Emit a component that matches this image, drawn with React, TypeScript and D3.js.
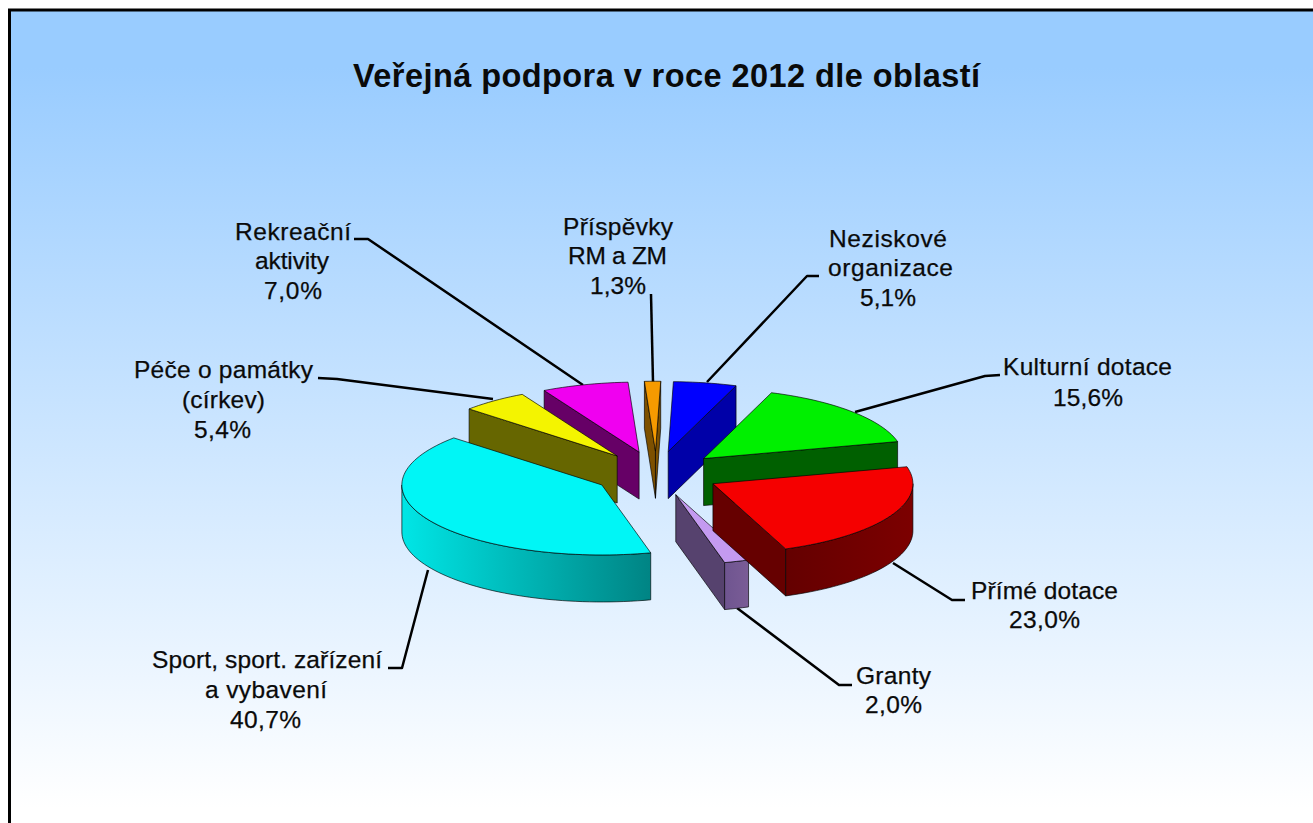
import React from "react";
import * as d3 from "d3";

// ---------- data ----------
const categories = [
  "Neziskové organizace",
  "Kulturní dotace",
  "Přímé dotace",
  "Granty",
  "Sport, sport. zařízení a vybavení",
  "Péče o památky (církev)",
  "Rekreační aktivity",
  "Příspěvky RM a ZM",
];
const shares = [5.1, 15.6, 23.0, 2.0, 40.7, 5.4, 7.0, 1.3];
const labelLines = [
  ["Neziskové", "organizace"],
  ["Kulturní dotace"],
  ["Přímé dotace"],
  ["Granty"],
  ["Sport, sport. zařízení", "a vybavení"],
  ["Péče o památky", "(církev)"],
  ["Rekreační", "aktivity"],
  ["Příspěvky", "RM a ZM"],
];
const chartTitle = "Veřejná podpora v roce 2012 dle oblastí";

// ---------- styling ----------
const topColors = ["#0000ff", "#00f000", "#f50000", "#c49af0", "#00f6f6", "#f4f400", "#f000f0", "#f59a00"];
const wallColors = ["#0000a8", "#006000", "#660000", "#56426e", "#007c7c", "#666600", "#660066", "#7d5000"];
const rimStops = [
  ["#0000a8", "#0000a8"],
  ["#007000", "#006000"],
  ["#640000", "#7c0000"],
  ["#6f5590", "#7a5c96"],
  ["#00e6e6", "#008484"],
  ["#666600", "#666600"],
  ["#660066", "#660066"],
  ["#7d5000", "#7d5000"],
];
const paintOrder = [0, 7, 6, 5, 1, 4, 3, 2];

// ---------- layout ----------
const W = 1313, H = 823;
const center = { x: 656.4, y: 473.5 };
const rx = 200, ry = 70, depth = 47, explode = 0.318;
const startDeg = 1.5;

// [left x, baseline y, width] for every text line of every label (percent line last)
const labelBoxes: number[][][] = [
  [[829, 247, 118], [828, 276, 125], [860, 306, 56]],
  [[1003, 375, 169], [1053, 406, 70]],
  [[971, 599, 147], [1009, 628, 71]],
  [[856, 684, 75], [865, 713, 57]],
  [[152, 668, 230], [205, 698, 122], [230, 728, 71]],
  [[134, 378, 179], [182, 408, 83], [194, 438, 57]],
  [[235, 240, 116], [255, 269, 74], [264, 299, 58]],
  [[563, 235, 110], [568, 264, 99], [590, 294, 56]],
];
const leaders: [number, number][][] = [
  [[819, 276], [807, 276], [707, 382]],
  [[1000, 375], [985, 376], [855, 412]],
  [[965, 600], [952, 600], [893, 563]],
  [[852, 685], [839, 685], [737, 608]],
  [[388, 668], [402, 668], [428, 570]],
  [[318, 378], [337, 379], [493, 399]],
  [[354, 239], [368, 239], [583, 385]],
  [[651, 294], [653, 382]],
];

const rad = (d: number) => (d * Math.PI) / 180;
const pieGen = d3
  .pie<number>()
  .sort(null)
  .startAngle(rad(startDeg))
  .endAngle(rad(startDeg + 360));
const arcs = pieGen(shares);
const lineGen = d3.line<[number, number]>().x((d) => d[0]).y((d) => d[1]);

function sliceParts(i: number) {
  const a0 = arcs[i].startAngle, a1 = arcs[i].endAngle, mid = (a0 + a1) / 2;
  const apex: [number, number] = [
    center.x + rx * explode * Math.sin(mid),
    center.y - ry * explode * Math.cos(mid),
  ];
  const rim = (a: number, dz = 0): [number, number] => [
    apex[0] + rx * Math.sin(a),
    apex[1] - ry * Math.cos(a) + dz,
  ];
  const down = (p: [number, number]): [number, number] => [p[0], p[1] + depth];
  const sweep = (from: number, to: number) => {
    const n = Math.max(2, Math.ceil((to - from) / rad(2)));
    return d3.range(n + 1).map((k) => from + ((to - from) * k) / n);
  };
  const top = lineGen([apex, ...sweep(a0, a1).map((a) => rim(a))]) + "Z";
  const walls: string[] = [];
  if (Math.sin(a0) < 0)
    walls.push(lineGen([apex, rim(a0), down(rim(a0)), down(apex)]) + "Z");
  if (Math.sin(a1) > 0)
    walls.push(lineGen([apex, rim(a1), down(rim(a1)), down(apex)]) + "Z");
  // the rim wall faces the viewer between 90° and 270°
  const from = Math.max(a0, rad(90)), to = Math.min(a1, rad(270));
  let rimWall: string | null = null;
  if (to > from) {
    const s = sweep(from, to);
    rimWall =
      lineGen([
        ...s.map((a) => rim(a)),
        ...s.slice().reverse().map((a) => rim(a, depth)),
      ]) + "Z";
  }
  return { top, walls, rimWall };
}

const edge = { stroke: "#000", strokeOpacity: 0.65, strokeWidth: 1, strokeLinejoin: "round" as const };

export default function App() {
  return (
    <svg
      width={W}
      height={H}
      style={{ position: "absolute", left: 0, top: 0, display: "block" }}
      fontFamily="'Liberation Sans', Arial, sans-serif"
    >
      <defs>
        <linearGradient id="bg" x1="0" y1="0" x2="0" y2="1">
          <stop offset="0" stopColor="#99ccff" />
          <stop offset="0.07" stopColor="#99ccff" />
          <stop offset="0.97" stopColor="#ffffff" />
          <stop offset="1" stopColor="#ffffff" />
        </linearGradient>
        {rimStops.map((s, i) => (
          <linearGradient key={i} id={`rim${i}`} x1="0" y1="0" x2="1" y2="0">
            <stop offset="0" stopColor={s[0]} />
            <stop offset="1" stopColor={s[1]} />
          </linearGradient>
        ))}
      </defs>
      <rect width={W} height={H} fill="#fff" />
      <rect x={9.5} y={10} width={W} height={H} fill="url(#bg)" stroke="#000" strokeWidth={3} />

      <text x={353} y={86.5} fontSize={32.5} fontWeight="bold" fill="#0a0a0a" textLength={627} lengthAdjust="spacing">
        {chartTitle}
      </text>

      {leaders.map((pts, i) => (
        <path key={i} d={lineGen(pts) ?? ""} fill="none" stroke="#000" strokeWidth={2.5} strokeLinejoin="round" />
      ))}

      {paintOrder.map((i) => {
        const p = sliceParts(i);
        return (
          <g key={categories[i]}>
            {p.walls.map((d, k) => (
              <path key={k} d={d} fill={wallColors[i]} {...edge} />
            ))}
            {p.rimWall && <path d={p.rimWall} fill={`url(#rim${i})`} {...edge} />}
            <path d={p.top} fill={topColors[i]} {...edge} />
          </g>
        );
      })}

      {labelLines.map((lines, i) => {
        const rows = [...lines, `${shares[i].toFixed(1).replace(".", ",")}%`];
        return rows.map((t, k) => {
          const [x, y, w] = labelBoxes[i][k];
          return (
            <text key={`${i}-${k}`} x={x} y={y} fontSize={24.5} fill="#0a0a0a" stroke="#0a0a0a" strokeWidth={0.25} textLength={w} lengthAdjust="spacing">
              {t}
            </text>
          );
        });
      })}
    </svg>
  );
}
